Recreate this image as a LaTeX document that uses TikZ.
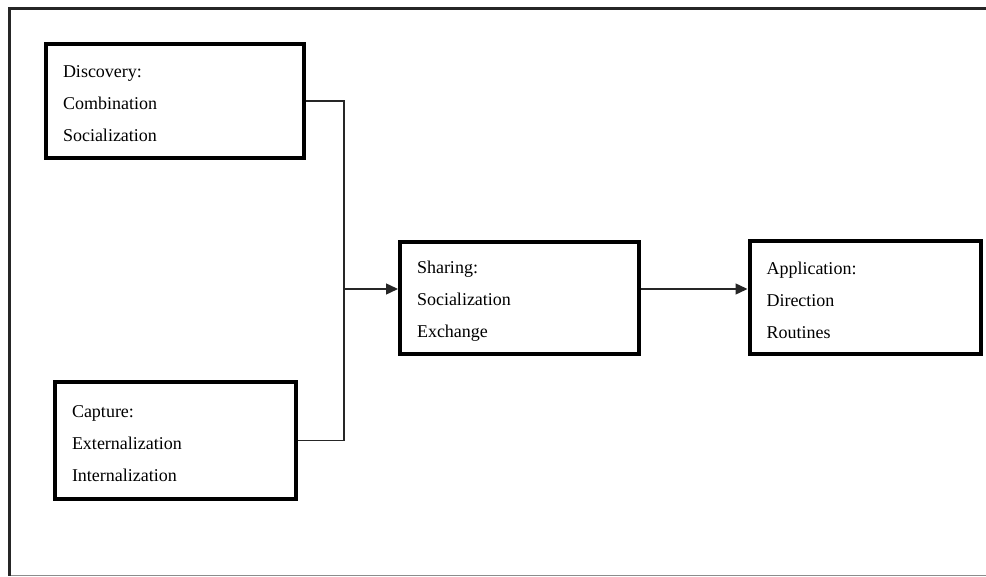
\documentclass[tikz,border=0pt]{standalone}
\usepackage{fontspec}
\setmainfont{Liberation Serif}
\usetikzlibrary{arrows.meta}
\tikzset{
  box/.style={draw=black, line width=4pt, rectangle, align=left, inner xsep=17pt, inner ysep=0pt,
    font=\fontsize{18}{32}\selectfont, execute at begin node={\rule{0pt}{18pt}}},
  conn/.style={draw=black!85, line width=1.4pt},
  arr/.style={conn, -{Triangle[length=12pt,width=11pt]}},
  frame/.style={draw=black!85, line width=3pt},
  framebot/.style={draw=black!45, line width=1.5pt}
}
\begin{document}
\begin{tikzpicture}[x=1pt,y=-1pt]
\useasboundingbox (0,0) rectangle (986,577);
% outer frame
\coordinate (ftl) at (9.5,8.5);
\coordinate (ftr) at (986,8.5);
\coordinate (fbl) at (9.5,575.5);
\coordinate (fbr) at (986,575.5);
\draw[framebot] (fbl) -- (fbr);
\draw[frame] (ftr) -- (ftl) -- (fbl);
% boxes
\node[box, minimum width=258pt, minimum height=114pt, text width=224pt] (disc) at (175,101)
  {Discovery:\\Combination\\Socialization};
\node[box, minimum width=241pt, minimum height=117pt, text width=207pt] (capt) at (175.5,440.5)
  {Capture:\\Externalization\\Internalization};
\node[box, minimum width=239pt, minimum height=112pt, text width=205pt] (share) at (519.5,298)
  {Sharing:\\Socialization\\Exchange};
\node[box, minimum width=231.5pt, minimum height=113pt, text width=197.5pt] (app) at (865.25,297.5)
  {Application:\\Direction\\Routines};
% connectors
\coordinate (j) at (344,289);
\draw[conn] (disc.east) -| (j) |- (capt.east);
\draw[arr] (j) -- (j -| share.west);
\draw[arr] (share.east |- j) -- (app.west |- j);
\end{tikzpicture}
\end{document}
